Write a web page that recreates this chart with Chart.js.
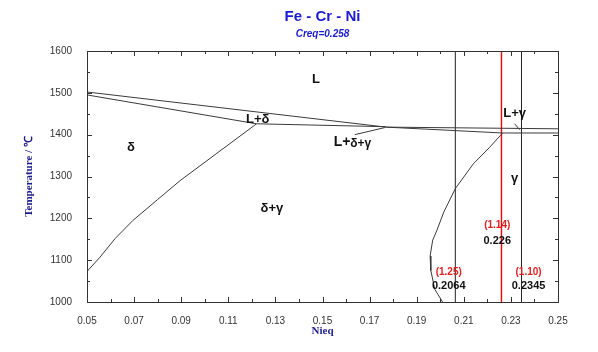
<!DOCTYPE html>
<html>
<head>
<meta charset="utf-8">
<script src="https://cdn.jsdelivr.net/npm/chart.js@4.4.1/dist/chart.umd.min.js"></script>
<style>
    html, body { margin: 0; padding: 0; background: #fff; }
    #wrap { width: 598px; height: 352px; }
</style>
</head>
<body>
<div id="wrap"><canvas id="phaseChart"></canvas></div>
<script>
const xTicks = [0.05, 0.07, 0.09, 0.11, 0.13, 0.15, 0.17, 0.19, 0.21, 0.23, 0.25];
const yTicks = [1000, 1100, 1200, 1300, 1400, 1500, 1600];

// phase boundaries (Nieq, temperature)
const liquidusX = [0.05, 0.177, 0.25];
const liquidusT = [1502, 1418, 1414];
const deltaSolidusX = [0.05, 0.122, 0.177];
const deltaSolidusT = [1495, 1426, 1419];
const gammaSolidusX = [0.177, 0.2265, 0.25];
const gammaSolidusT = [1418, 1404, 1404];
const deltaSolvusX = [0.05, 0.0555, 0.062, 0.0695, 0.08, 0.0895, 0.122];
const deltaSolvusT = [1073, 1107, 1152, 1195, 1245, 1290, 1426];
const gammaSolvusX = [0.2265, 0.221, 0.214, 0.2064, 0.2015, 0.1985, 0.1968, 0.1957, 0.196, 0.1977, 0.201];
const gammaSolvusT = [1404, 1370, 1330, 1271, 1215, 1170, 1148, 1110, 1075, 1030, 1000];
const pointer3X = [0.1637, 0.1765];
const pointer3T = [1400, 1417];
const pointerLgX = [0.2316, 0.2337];
const pointerLgT = [1426, 1412];

// composition sections
const sectionNieq = [0.2064, 0.226, 0.2345];
const sectionColors = ['#222222', '#ff0000', '#222222'];
const sectionWidths = [1, 1.4, 1];
const sectionRatio = ['(1.25)', '(1.14)', '(1.10)'];
const sectionText = ['0.2064', '0.226', '0.2345'];
const sectionLabelX = [0.2036, 0.2242, 0.2375];
const sectionRatioT = [1071, 1183, 1071];
const sectionValueT = [1038, 1145, 1038];

// phase field labels
const fieldText = ['L', 'L+δ', 'δ', 'δ+γ', 'L+γ', 'γ'];
const fieldX = [0.1472, 0.1225, 0.0687, 0.1285, 0.2316, 0.2316];
const fieldT = [1533, 1436, 1369, 1224, 1450, 1295];

function toPoints(xs, ts) {
    return xs.map(function (v, i) {
        return { x: v, y: ts[i] };
    });
}

function boundary(xs, ts, color, width) {
    return {
        data: toPoints(xs, ts),
        showLine: true,
        borderColor: color || '#3a3a3a',
        borderWidth: width || 1,
        pointRadius: 0,
        tension: 0
    };
}

const datasets = [
    boundary(liquidusX, liquidusT),
    boundary(deltaSolidusX, deltaSolidusT),
    boundary(gammaSolidusX, gammaSolidusT),
    boundary(deltaSolvusX, deltaSolvusT),
    boundary(gammaSolvusX, gammaSolvusT),
    boundary(pointer3X, pointer3T),
    boundary(pointerLgX, pointerLgT)
];

sectionNieq.forEach(function (v, i) {
    datasets.push(boundary([v, v], [1000, 1600], sectionColors[i], sectionWidths[i]));
});

const frameTicks = {
    id: 'frameTicks',
    afterDatasetsDraw: function (chart) {
        const ctx = chart.ctx;
        const a = chart.chartArea;
        const xs = chart.scales.x;
        const ys = chart.scales.y;

        ctx.save();
        ctx.strokeStyle = '#333';
        ctx.lineWidth = 1;
        ctx.strokeRect(Math.round(a.left) + 0.5, Math.round(a.top) + 0.5,
            Math.round(a.right - a.left), Math.round(a.bottom - a.top));

        ctx.beginPath();
        for (let k = 5; k <= 25; k++) {
            const px = Math.round(xs.getPixelForValue(k / 100)) + 0.5;
            const len = k % 2 === 1 ? 5 : 3;
            ctx.moveTo(px, a.bottom);
            ctx.lineTo(px, a.bottom - len);
            ctx.moveTo(px, a.top);
            ctx.lineTo(px, a.top + len);
        }
        for (let t = 1000; t <= 1600; t += 50) {
            const py = Math.round(ys.getPixelForValue(t)) + 0.5;
            const len = t % 100 === 0 ? 5 : 3;
            ctx.moveTo(a.left, py);
            ctx.lineTo(a.left + len, py);
            ctx.moveTo(a.right, py);
            ctx.lineTo(a.right - len, py);
        }
        ctx.stroke();
        ctx.restore();
    }
};

const phaseLabels = {
    id: 'phaseLabels',
    afterDatasetsDraw: function (chart) {
        const ctx = chart.ctx;
        const xs = chart.scales.x;
        const ys = chart.scales.y;

        ctx.save();
        ctx.textAlign = 'center';
        ctx.textBaseline = 'middle';

        ctx.fillStyle = '#111';
        ctx.font = 'bold 13px "Liberation Sans", Arial, sans-serif';
        fieldText.forEach(function (txt, i) {
            ctx.fillText(txt, xs.getPixelForValue(fieldX[i]), ys.getPixelForValue(fieldT[i]));
        });

        // three phase field, "L+" a bit bigger than the rest
        ctx.textAlign = 'left';
        ctx.font = 'bold 14px "Liberation Sans", Arial, sans-serif';
        ctx.fillText('L+', xs.getPixelForValue(0.1548), ys.getPixelForValue(1383));
        ctx.font = 'bold 12px "Liberation Sans", Arial, sans-serif';
        ctx.fillText('δ+γ', xs.getPixelForValue(0.1618), ys.getPixelForValue(1379));

        ctx.textAlign = 'center';
        sectionText.forEach(function (txt, i) {
            const px = xs.getPixelForValue(sectionLabelX[i]);
            ctx.fillStyle = '#e01f1f';
            ctx.font = 'bold 10px "Liberation Sans", Arial, sans-serif';
            ctx.fillText(sectionRatio[i], px, ys.getPixelForValue(sectionRatioT[i]));
            ctx.fillStyle = '#111';
            ctx.font = 'bold 11px "Liberation Sans", Arial, sans-serif';
            ctx.fillText(txt, px, ys.getPixelForValue(sectionValueT[i]));
        });
        ctx.restore();
    }
};

const axisFont = { family: '"Liberation Sans", Arial, sans-serif', size: 10 };
const axisTitleFont = { family: '"Liberation Serif", "Times New Roman", serif', size: 11, weight: 'bold' };

new Chart(document.getElementById('phaseChart'), {
    type: 'scatter',
    data: { datasets: datasets },
    options: {
        responsive: true,
        maintainAspectRatio: false,
        animation: false,
        layout: { padding: { left: 0, right: 40, top: 0, bottom: 0 } },
        plugins: {
            legend: { display: false },
            tooltip: { enabled: false },
            title: {
                display: true,
                text: 'Fe - Cr - Ni',
                color: '#1a1ad2',
                fullSize: false,
                font: { family: '"Liberation Sans", Arial, sans-serif', size: 15, weight: 'bold' },
                padding: { top: 8, bottom: 2 }
            },
            subtitle: {
                display: true,
                text: 'Creq=0.258',
                color: '#1a1ad2',
                fullSize: false,
                font: { family: '"Liberation Sans", Arial, sans-serif', size: 10, weight: 'bold', style: 'italic' },
                padding: { top: 0, bottom: 11 }
            }
        },
        scales: {
            x: {
                type: 'linear',
                min: 0.05,
                max: 0.25,
                grid: { display: false },
                border: { display: false },
                afterBuildTicks: function (scale) {
                    scale.ticks = xTicks.map(function (v) { return { value: v }; });
                },
                afterFit: function (scale) {
                    scale.height = 50;
                },
                ticks: {
                    font: axisFont,
                    color: '#333',
                    padding: 5,
                    maxRotation: 0,
                    callback: function (value) { return Number(value).toFixed(2); }
                },
                title: {
                    display: true,
                    text: 'Nieq',
                    color: '#1c1c8c',
                    font: axisTitleFont,
                    padding: { top: 0, bottom: 14 }
                }
            },
            y: {
                type: 'linear',
                min: 1000,
                max: 1600,
                grid: { display: false },
                border: { display: false },
                afterBuildTicks: function (scale) {
                    scale.ticks = yTicks.map(function (v) { return { value: v }; });
                },
                afterFit: function (scale) {
                    scale.width = 87;
                },
                ticks: {
                    font: axisFont,
                    color: '#333',
                    padding: 7,
                    callback: function (value) { return String(value); }
                },
                title: {
                    display: true,
                    text: 'Temperature / ℃',
                    color: '#1c1c8c',
                    font: axisTitleFont,
                    padding: { top: 23, bottom: 0 }
                }
            }
        }
    },
    plugins: [frameTicks, phaseLabels]
});
</script>
</body>
</html>
